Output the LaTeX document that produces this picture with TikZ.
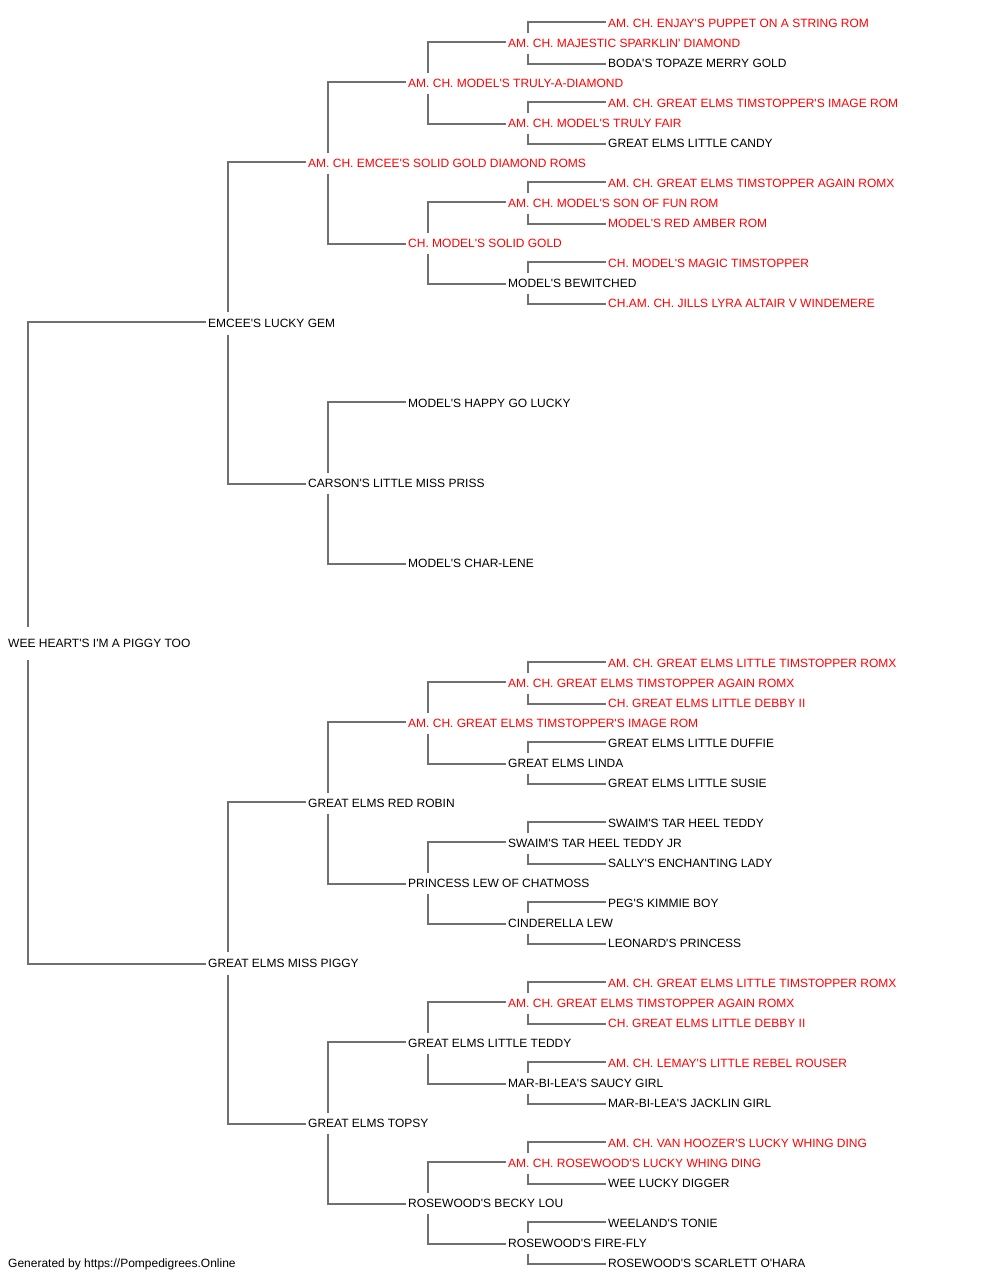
\documentclass[tikz,border=0pt]{standalone}
\usepackage{fontspec}
\setmainfont{Liberation Sans}[Ligatures=TeXOff]
\definecolor{pedred}{RGB}{255,0,0}
\definecolor{pedline}{RGB}{112,112,112}
\newcommand\pedlink[1]{%
  \draw[conn] ([xshift=22pt]#1.north west) |- ([yshift=1.2pt]#1s.west);
  \draw[conn] ([xshift=22pt]#1.south west) |- ([yshift=-0.5pt]#1d.west);}
\begin{document}
\begin{tikzpicture}[x=1pt,y=-1pt,
  pn/.style={anchor=west,inner xsep=2pt,inner ysep=0pt,text height=8.6pt,text depth=0pt,minimum height=20pt,font=\fontsize{12}{14}\selectfont},
  champ/.style={pn,text=pedred},
  conn/.style={draw=pedline,line width=2pt}]
\useasboundingbox (0,0) rectangle (1000,1280);
% generation 1
\node[pn,minimum height=32pt] (r) at (6,643.5) {WEE HEART'S I'M A PIGGY TOO};
% generation 2
\node[pn,minimum height=22pt] (rs) at (206,323.5) {EMCEE'S LUCKY GEM};
\node[pn,minimum height=22pt] (rd) at (206,963.5) {GREAT ELMS MISS PIGGY};
% generation 3
\node[champ] (rss) at (306,163.5) {AM. CH. EMCEE'S SOLID GOLD DIAMOND ROMS};
\node[pn] (rsd) at (306,483.5) {CARSON'S LITTLE MISS PRISS};
\node[pn] (rds) at (306,803.5) {GREAT ELMS RED ROBIN};
\node[pn] (rdd) at (306,1123.5) {GREAT ELMS TOPSY};
% generation 4
\node[champ] (rsss) at (406,83.5) {AM. CH. MODEL'S TRULY-A-DIAMOND};
\node[champ] (rssd) at (406,243.5) {CH. MODEL'S SOLID GOLD};
\node[pn] (rsds) at (406,403.5) {MODEL'S HAPPY GO LUCKY};
\node[pn] (rsdd) at (406,563.5) {MODEL'S CHAR-LENE};
\node[champ] (rdss) at (406,723.5) {AM. CH. GREAT ELMS TIMSTOPPER'S IMAGE ROM};
\node[pn] (rdsd) at (406,883.5) {PRINCESS LEW OF CHATMOSS};
\node[pn] (rdds) at (406,1043.5) {GREAT ELMS LITTLE TEDDY};
\node[pn] (rddd) at (406,1203.5) {ROSEWOOD'S BECKY LOU};
% generation 5
\node[champ] (rssss) at (506,43.5) {AM. CH. MAJESTIC SPARKLIN' DIAMOND};
\node[champ] (rsssd) at (506,123.5) {AM. CH. MODEL'S TRULY FAIR};
\node[champ] (rssds) at (506,203.5) {AM. CH. MODEL'S SON OF FUN ROM};
\node[pn] (rssdd) at (506,283.5) {MODEL'S BEWITCHED};
\node[champ] (rdsss) at (506,683.5) {AM. CH. GREAT ELMS TIMSTOPPER AGAIN ROMX};
\node[pn] (rdssd) at (506,763.5) {GREAT ELMS LINDA};
\node[pn] (rdsds) at (506,843.5) {SWAIM'S TAR HEEL TEDDY JR};
\node[pn] (rdsdd) at (506,923.5) {CINDERELLA LEW};
\node[champ] (rddss) at (506,1003.5) {AM. CH. GREAT ELMS TIMSTOPPER AGAIN ROMX};
\node[pn] (rddsd) at (506,1083.5) {MAR-BI-LEA'S SAUCY GIRL};
\node[champ] (rddds) at (506,1163.5) {AM. CH. ROSEWOOD'S LUCKY WHING DING};
\node[pn] (rdddd) at (506,1243.5) {ROSEWOOD'S FIRE-FLY};
% generation 6
\node[champ] (rsssss) at (606,23.5) {AM. CH. ENJAY'S PUPPET ON A STRING ROM};
\node[pn] (rssssd) at (606,63.5) {BODA'S TOPAZE MERRY GOLD};
\node[champ] (rsssds) at (606,103.5) {AM. CH. GREAT ELMS TIMSTOPPER'S IMAGE ROM};
\node[pn] (rsssdd) at (606,143.5) {GREAT ELMS LITTLE CANDY};
\node[champ] (rssdss) at (606,183.5) {AM. CH. GREAT ELMS TIMSTOPPER AGAIN ROMX};
\node[champ] (rssdsd) at (606,223.5) {MODEL'S RED AMBER ROM};
\node[champ] (rssdds) at (606,263.5) {CH. MODEL'S MAGIC TIMSTOPPER};
\node[champ] (rssddd) at (606,303.5) {CH.AM. CH. JILLS LYRA ALTAIR V WINDEMERE};
\node[champ] (rdssss) at (606,663.5) {AM. CH. GREAT ELMS LITTLE TIMSTOPPER ROMX};
\node[champ] (rdsssd) at (606,703.5) {CH. GREAT ELMS LITTLE DEBBY II};
\node[pn] (rdssds) at (606,743.5) {GREAT ELMS LITTLE DUFFIE};
\node[pn] (rdssdd) at (606,783.5) {GREAT ELMS LITTLE SUSIE};
\node[pn] (rdsdss) at (606,823.5) {SWAIM'S TAR HEEL TEDDY};
\node[pn] (rdsdsd) at (606,863.5) {SALLY'S ENCHANTING LADY};
\node[pn] (rdsdds) at (606,903.5) {PEG'S KIMMIE BOY};
\node[pn] (rdsddd) at (606,943.5) {LEONARD'S PRINCESS};
\node[champ] (rddsss) at (606,983.5) {AM. CH. GREAT ELMS LITTLE TIMSTOPPER ROMX};
\node[champ] (rddssd) at (606,1023.5) {CH. GREAT ELMS LITTLE DEBBY II};
\node[champ] (rddsds) at (606,1063.5) {AM. CH. LEMAY'S LITTLE REBEL ROUSER};
\node[pn] (rddsdd) at (606,1103.5) {MAR-BI-LEA'S JACKLIN GIRL};
\node[champ] (rdddss) at (606,1143.5) {AM. CH. VAN HOOZER'S LUCKY WHING DING};
\node[pn] (rdddsd) at (606,1183.5) {WEE LUCKY DIGGER};
\node[pn] (rdddds) at (606,1223.5) {WEELAND'S TONIE};
\node[pn] (rddddd) at (606,1263.5) {ROSEWOOD'S SCARLETT O'HARA};
% footer
\node[pn] (foot) at (6,1263.5) {Generated by https://Pompedigrees.Online};
% connectors
\pedlink{r}
\pedlink{rs}\pedlink{rd}
\pedlink{rss}\pedlink{rsd}\pedlink{rds}\pedlink{rdd}
\pedlink{rsss}\pedlink{rssd}\pedlink{rdss}\pedlink{rdsd}\pedlink{rdds}\pedlink{rddd}
\pedlink{rssss}\pedlink{rsssd}\pedlink{rssds}\pedlink{rssdd}
\pedlink{rdsss}\pedlink{rdssd}\pedlink{rdsds}\pedlink{rdsdd}
\pedlink{rddss}\pedlink{rddsd}\pedlink{rddds}\pedlink{rdddd}
\end{tikzpicture}
\end{document}
